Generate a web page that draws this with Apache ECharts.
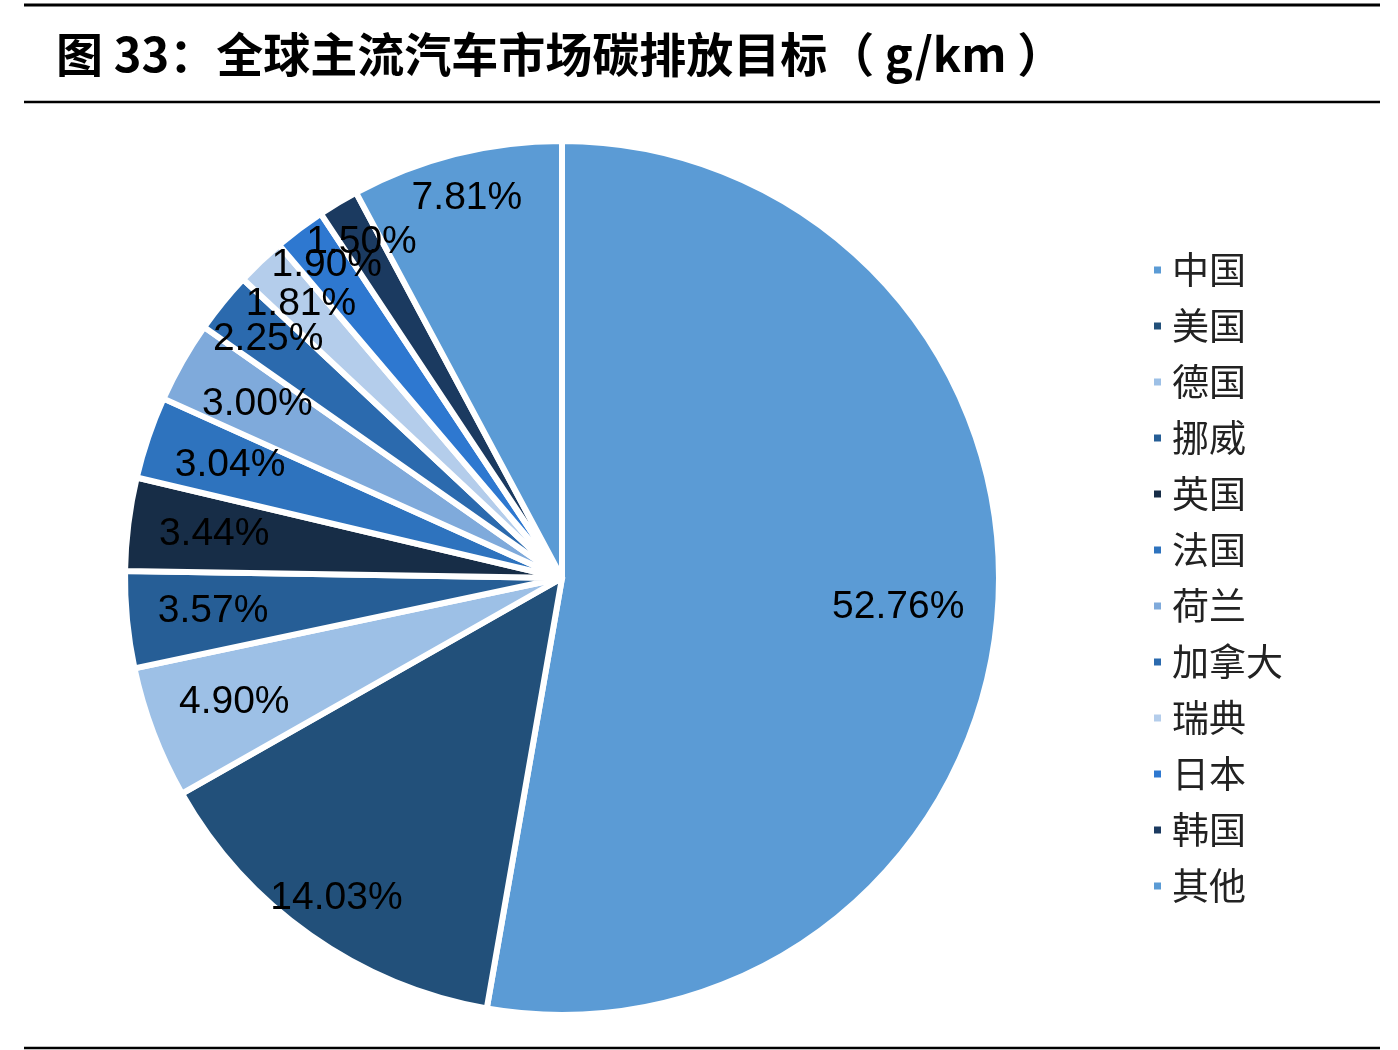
<!DOCTYPE html>
<html>
<head>
<meta charset="utf-8">
<script src="https://cdn.jsdelivr.net/npm/echarts@6/dist/echarts.min.js"></script>
<style>
html,body{margin:0;padding:0;background:#fff;}
#main{width:1398px;height:1050px;}
</style>
</head>
<body>
<div id="main"></div>
<script>
const titleText = '图 33：全球主流汽车市场碳排放目标（ g/km ）';
const categories = ['中国','美国','德国','挪威','英国','法国','荷兰','加拿大','瑞典','日本','韩国','其他'];
const shares = [52.76,14.03,4.90,3.57,3.44,3.04,3.00,2.25,1.81,1.90,1.50,7.81];
const sliceColors = ['#5B9BD5','#22507A','#9DC0E6','#265E96','#172D47','#2E73BE','#7FAADB','#2B6AAE','#B4CDEB','#2E78D0','#1B3A60','#5B9BD5'];

// label ring placement (style only): inner radius of the invisible ring carrying each slice's label
const labelRings = [
  {inner:232, names:['中国']},
  {inner:258, names:['德国','挪威','英国','法国','荷兰']},
  {inner:314, names:['加拿大','瑞典']},
  {inner:340, names:['美国','日本','韩国','其他']}
];

const R = 437;
const center = [562, 578];
const pieData = categories.map((n,i)=>({name:n,value:shares[i],itemStyle:{color:sliceColors[i]}}));

const labelSeries = labelRings.map(ring=>({
  type:'pie',
  center:center,
  radius:[ring.inner,R],
  startAngle:90,
  clockwise:true,
  silent:true,
  legendHoverLink:false,
  avoidLabelOverlap:false,
  labelLayout:{hideOverlap:false},
  itemStyle:{color:'rgba(0,0,0,0)',borderWidth:0},
  label:{
    show:true,
    position:'inside',
    formatter:p=>p.value.toFixed(2)+'%',
    fontFamily:'Liberation Sans',
    fontSize:39,
    color:'#000'
  },
  labelLine:{show:false},
  data:categories.map((n,i)=>({name:n,value:shares[i],label:{show:ring.names.indexOf(n)>=0}}))
}));

const chart = echarts.init(document.getElementById('main'));
chart.setOption({
  backgroundColor:'#ffffff',
  animation:false,
  color: sliceColors,
  legend:{
    orient:'vertical',
    left:1147,
    top:243,
    icon:'rect',
    itemWidth:9,
    itemHeight:9,
    itemGap:12,
    textStyle:{fontFamily:'Noto Sans CJK SC',fontSize:37,color:'#222',lineHeight:44,padding:[0,0,0,5]},
    data:categories
  },
  graphic:[
    {type:'line',shape:{x1:24,y1:5,x2:1380,y2:5},style:{stroke:'#000',lineWidth:3}},
    {type:'line',shape:{x1:24,y1:102,x2:1380,y2:102},style:{stroke:'#000',lineWidth:2.5}},
    {type:'line',shape:{x1:24,y1:1048,x2:1380,y2:1048},style:{stroke:'#000',lineWidth:2.5}},
    {type:'text',left:56,top:31,style:{text:titleText,fontFamily:'Noto Sans CJK SC',fontWeight:'bold',fontSize:47,fill:'#000'}}
  ],
  series:[
    {
      type:'pie',
      center:center,
      radius:[0,R],
      startAngle:90,
      clockwise:true,
      silent:true,
      label:{show:false},
      labelLine:{show:false},
      itemStyle:{borderColor:'#fff',borderWidth:6},
      data:pieData
    }
  ].concat(labelSeries)
});
</script>
</body>
</html>
